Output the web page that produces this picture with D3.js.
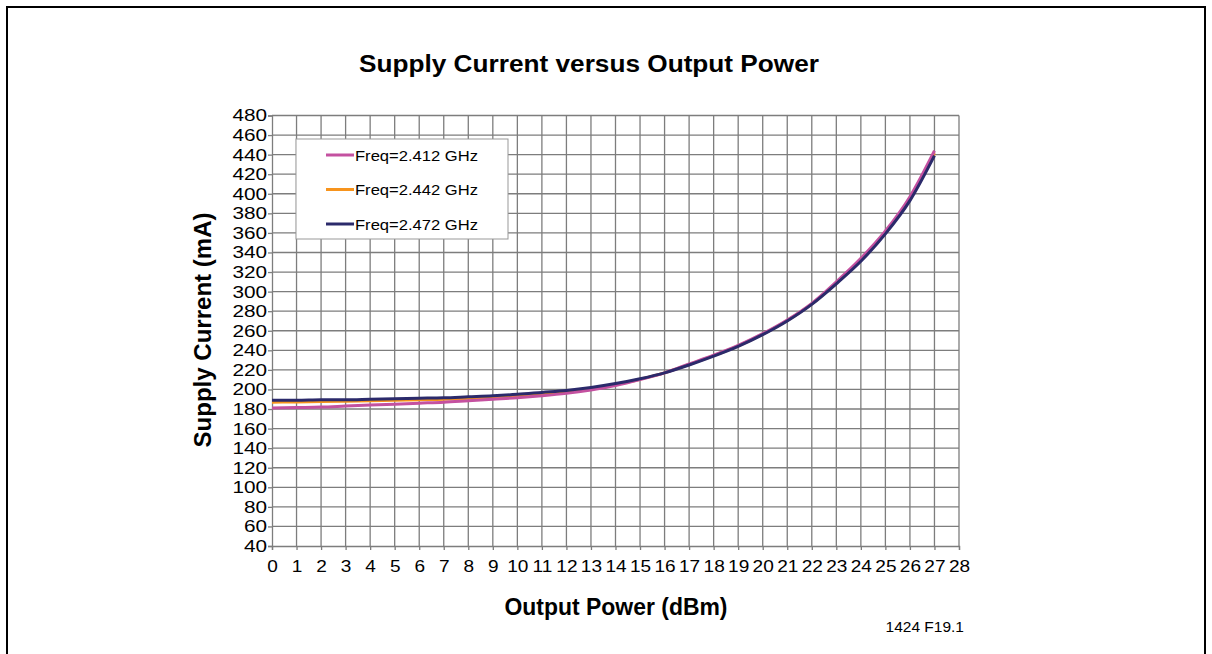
<!DOCTYPE html>
<html>
<head>
<meta charset="utf-8">
<script src="https://cdn.jsdelivr.net/npm/d3@7"></script>
<style>
  html, body { margin: 0; padding: 0; background: #fff; }
  svg { display: block; }
  text { font-family: "Liberation Sans", Arial, sans-serif; fill: #000; }
</style>
</head>
<body>
<svg id="chart" width="1212" height="654"></svg>
<script>
const xValues = d3.range(0, 28); // 0..27 dBm
const freq2412 = [181, 181.5, 182, 183, 184, 185, 186, 187, 188.5, 190, 191.5, 193.5, 196, 199.5, 204, 210, 217, 226, 235, 245, 257, 271, 288, 310, 334, 362, 397, 444];
const freq2442 = [187, 187.3, 187.7, 188, 188.5, 189, 189.5, 190, 191, 192, 193.5, 195.5, 198, 201, 205, 210.5, 217, 225.5, 234.5, 244.5, 256.5, 270.5, 287.5, 309, 332.5, 360.5, 395, 441.5];
const freq2472 = [189, 189, 189.5, 189.5, 190, 190.5, 191, 191.5, 192.5, 193.5, 195, 197, 199, 202, 206, 211, 217, 225, 234, 244, 256, 270, 287, 308, 331, 359, 393, 439];
const seriesNames = ["Freq=2.412 GHz", "Freq=2.442 GHz", "Freq=2.472 GHz"];
const seriesColors = ["#c451a0", "#f7941d", "#2b2a6b"];
const xTicks = d3.range(0, 29);
const yTicks = d3.range(40, 481, 20);

const svg = d3.select("#chart");

function stretch(sel, factor) {
  sel.each(function () {
    const w = this.getComputedTextLength();
    d3.select(this).attr("textLength", w * factor).attr("lengthAdjust", "spacingAndGlyphs");
  });
}
function fitWidth(sel, width) {
  sel.attr("textLength", width).attr("lengthAdjust", "spacingAndGlyphs");
}

// outer frame
svg.append("path")
  .attr("d", "M7,660 L7,7 L1205,7 L1205,660")
  .attr("fill", "none").attr("stroke", "#000").attr("stroke-width", 2);

const x = d3.scaleLinear().domain([0, 28]).range([272, 959]);
const y = d3.scaleLinear().domain([40, 480]).range([546, 115.5]);

// gridlines
const grid = svg.append("g");
grid.selectAll("line.v").data(xTicks.slice(1)).join("line")
  .attr("x1", d => x(d)).attr("x2", d => x(d))
  .attr("y1", y(480)).attr("y2", y(40))
  .attr("stroke", "#7d7d7d").attr("stroke-width", 1.3);
grid.selectAll("line.h").data(yTicks.slice(1)).join("line")
  .attr("x1", x(0)).attr("x2", x(28))
  .attr("y1", d => y(d)).attr("y2", d => y(d))
  .attr("stroke", "#7d7d7d").attr("stroke-width", 1.3);

// axes
const xAxis = d3.axisBottom(x).tickValues(xTicks).tickSize(4).tickFormat(d3.format("d"));
const yAxis = d3.axisLeft(y).tickValues(yTicks).tickSize(4).tickFormat(d3.format("d"));

const gx = svg.append("g").attr("transform", `translate(0,${y(40)})`).call(xAxis);
const gy = svg.append("g").attr("transform", `translate(${x(0)},0)`).call(yAxis);
[gx, gy].forEach(g => {
  g.select(".domain").attr("stroke", "#7d7d7d").attr("stroke-width", 1.3);
  g.selectAll(".tick line").attr("stroke", "#7d7d7d").attr("stroke-width", 1.3);
  g.selectAll(".tick text").style("font-family", "'Liberation Sans', Arial, sans-serif")
    .style("font-size", "17px").attr("fill", "#000");
});
gx.selectAll(".tick text").attr("dy", "0.95em").attr("y", 10);
gy.selectAll(".tick text").attr("x", -5);
stretch(gx.selectAll(".tick text"), 1.12);
stretch(gy.selectAll(".tick text"), 1.22);

// lines
const line = d3.line().x((d, i) => x(xValues[i])).y(d => y(d)).curve(d3.curveMonotoneX);
const allSeries = [freq2412, freq2442, freq2472];
const drawOrder = [1, 0, 2];
drawOrder.forEach(i => {
  svg.append("path").datum(allSeries[i])
    .attr("d", line).attr("fill", "none")
    .attr("stroke", seriesColors[i]).attr("stroke-width", 3);
});

// legend
const lg = svg.append("g");
lg.append("rect").attr("x", 296).attr("y", 139).attr("width", 212).attr("height", 100)
  .attr("fill", "#fff").attr("stroke", "#999").attr("stroke-width", 1);
seriesNames.forEach((name, i) => {
  const cy = 155 + i * 34.5;
  lg.append("line").attr("x1", 326).attr("x2", 354).attr("y1", cy).attr("y2", cy)
    .attr("stroke", seriesColors[i]).attr("stroke-width", 3);
  const t = lg.append("text").attr("x", 355).attr("y", cy + 5.5)
    .style("font-size", "15px").text(name);
  fitWidth(t, 123);
});

// titles
fitWidth(svg.append("text").attr("x", 589).attr("y", 72).attr("text-anchor", "middle")
  .style("font-size", "23px").style("font-weight", "bold")
  .text("Supply Current versus Output Power"), 460);
fitWidth(svg.append("text").attr("x", 616).attr("y", 615).attr("text-anchor", "middle")
  .style("font-size", "23px").style("font-weight", "bold")
  .text("Output Power (dBm)"), 223);
fitWidth(svg.append("text").attr("transform", "translate(211,330) rotate(-90)").attr("text-anchor", "middle")
  .style("font-size", "23.5px").style("font-weight", "bold")
  .text("Supply Current (mA)"), 235);
svg.append("text").attr("x", 964).attr("y", 632).attr("text-anchor", "end")
  .style("font-size", "15.5px")
  .text("1424 F19.1");
</script>
</body>
</html>
